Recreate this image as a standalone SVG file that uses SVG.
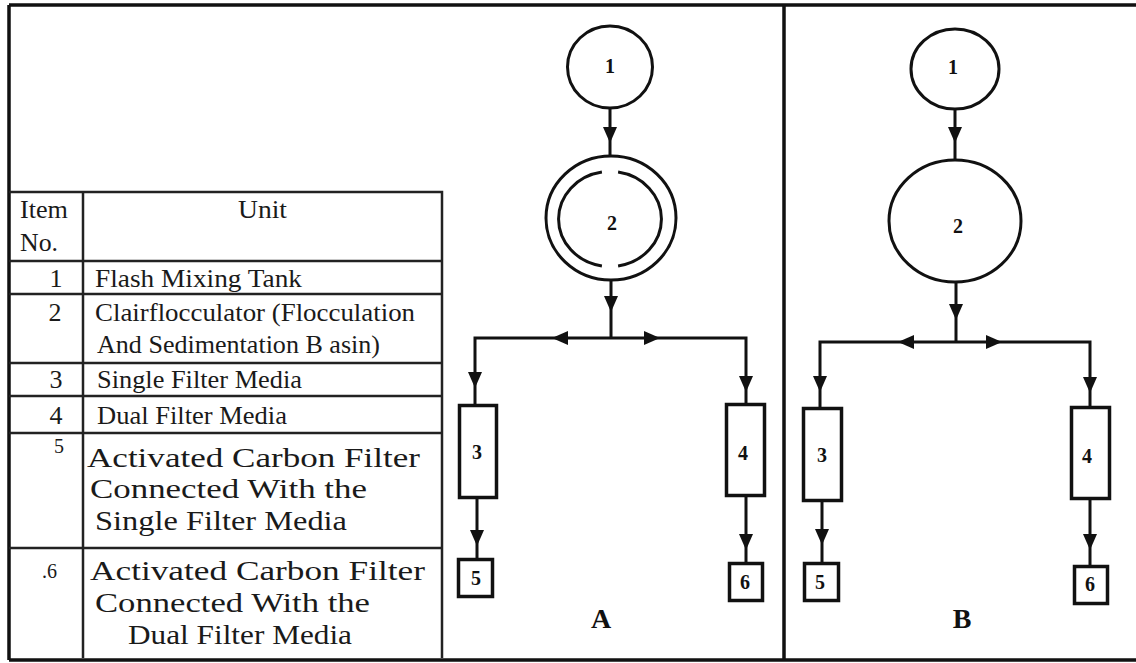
<svg xmlns="http://www.w3.org/2000/svg" width="1136" height="663" viewBox="0 0 1136 663">
<style>
.frame{stroke:#111;stroke-width:3.5;fill:none}
.tbl{stroke:#222;stroke-width:2.5;fill:none}
.tt{font-family:"Liberation Serif","Times New Roman",serif;font-size:26px;fill:#1a1a1a}
.tb{font-family:"Liberation Serif","Times New Roman",serif;font-size:28px;fill:#1a1a1a}
.tn{font-family:"Liberation Serif","Times New Roman",serif;font-size:20px;fill:#1a1a1a}
.shape{stroke:#111;stroke-width:3;fill:#fff}
.box{stroke:#111;stroke-width:3.5;fill:#fff}
.lbl{font-family:"Liberation Serif","Times New Roman",serif;font-weight:bold;font-size:20px;fill:#111;text-anchor:middle}
.big{font-family:"Liberation Serif","Times New Roman",serif;font-weight:bold;font-size:28px;fill:#111;text-anchor:middle}
.con{stroke:#111;stroke-width:3;fill:none;marker-end:url(#ah)}
.con2{stroke:#111;stroke-width:3;fill:none}
</style>
<defs>
<marker id="ah" viewBox="0 0 16 14" refX="16" refY="7" markerWidth="16" markerHeight="14" markerUnits="userSpaceOnUse" orient="auto">
<path d="M0,0 L16,7 L0,14 Z" fill="#111"/>
</marker>
</defs>
<rect width="1136" height="663" fill="#fff"/>
<g id="frame">
<path class="frame" d="M9,5 H1136 M9,5 V660 M9,660 H1136 M784,5 V660"/>
</g>
<g id="table">
<path class="tbl" d="M9,192 H442 V658 M9,261 H442 M9,294 H442 M9,363 H442 M9,396 H442 M9,433 H442 M9,548 H442 M83,192 V658"/>
<text class="tt" x="20" y="218" textLength="48" lengthAdjust="spacingAndGlyphs">Item</text>
<text class="tt" x="20" y="251" textLength="38" lengthAdjust="spacingAndGlyphs">No.</text>
<text class="tt" x="238" y="218" textLength="49" lengthAdjust="spacingAndGlyphs">Unit</text>
<text class="tt" x="56" y="287" text-anchor="middle">1</text>
<text class="tt" x="95" y="287" textLength="207" lengthAdjust="spacingAndGlyphs">Flash Mixing Tank</text>
<text class="tt" x="55" y="321" text-anchor="middle">2</text>
<text class="tt" x="95" y="321" textLength="320" lengthAdjust="spacingAndGlyphs">Clairflocculator (Flocculation</text>
<text class="tt" x="97" y="353" textLength="283" lengthAdjust="spacingAndGlyphs">And Sedimentation B asin)</text>
<text class="tt" x="56" y="388" text-anchor="middle">3</text>
<text class="tt" x="97" y="388" textLength="205" lengthAdjust="spacingAndGlyphs">Single Filter Media</text>
<text class="tt" x="56" y="424" text-anchor="middle">4</text>
<text class="tt" x="97" y="424" textLength="190" lengthAdjust="spacingAndGlyphs">Dual Filter Media</text>
<text class="tn" x="59" y="453" text-anchor="middle">5</text>
<text class="tb" x="87" y="467" textLength="333" lengthAdjust="spacingAndGlyphs">Activated Carbon Filter</text>
<text class="tb" x="90" y="498" textLength="277" lengthAdjust="spacingAndGlyphs">Connected With the</text>
<text class="tb" x="95" y="530" textLength="252" lengthAdjust="spacingAndGlyphs">Single Filter Media</text>
<text class="tn" x="42" y="578">.6</text>
<text class="tb" x="90" y="580" textLength="335" lengthAdjust="spacingAndGlyphs">Activated Carbon Filter</text>
<text class="tb" x="95" y="612" textLength="275" lengthAdjust="spacingAndGlyphs">Connected With the</text>
<text class="tb" x="128" y="644" textLength="224" lengthAdjust="spacingAndGlyphs">Dual Filter Media</text>
</g>
<g id="connectors">
<path class="con" d="M610,143 V155 M610,109 V143"/>
<path class="con" d="M611,312 V338 M611,281 V312"/>
<path class="con" d="M611,338 H552"/>
<path class="con" d="M611,338 H660"/>
<path class="con" d="M475,388 V404 M552,338 H475 V388"/>
<path class="con" d="M746,392 V403 M660,338 H746 V392"/>
<path class="con" d="M477,546 V558 M477,498 V546"/>
<path class="con" d="M746,550 V562 M746,497 V550"/>
<path class="con" d="M955,143 V159 M955,109 V143"/>
<path class="con" d="M956,320 V342 M956,282 V320"/>
<path class="con" d="M956,342 H898"/>
<path class="con" d="M956,342 H1002"/>
<path class="con" d="M820,392 V407 M898,342 H820 V392"/>
<path class="con" d="M1090,393 V406 M1002,342 H1090 V393"/>
<path class="con" d="M822,545 V562 M822,502 V545"/>
<path class="con" d="M1090,550 V565 M1090,500 V550"/>
</g>
<g id="A-1"><ellipse class="shape" cx="610" cy="67" rx="42.5" ry="41"/><text class="lbl" x="610" y="73">1</text></g>
<g id="A-2"><ellipse class="shape" cx="611" cy="218" rx="65" ry="62"/>
<path class="con2" d="M618.1,172.1 A51.5,47.5 0 0 1 618.1,265.9 M601.9,265.9 A51.5,47.5 0 0 1 601.9,172.1"/>
<text class="lbl" x="612" y="230">2</text></g>
<g id="A-3"><rect class="box" x="459.5" y="405.5" width="37" height="92"/><text class="lbl" x="477" y="459" font-size="22">3</text></g>
<g id="A-4"><rect class="box" x="726.5" y="404.5" width="38" height="91"/><text class="lbl" x="743" y="460" font-size="22">4</text></g>
<g id="A-5"><rect class="box" x="458.5" y="559.5" width="34" height="37"/><text class="lbl" x="476" y="585">5</text></g>
<g id="A-6"><rect class="box" x="729.5" y="563.5" width="33" height="37"/><text class="lbl" x="745" y="589">6</text></g>
<g id="A-label"><text class="big" x="601" y="628">A</text></g>
<g id="B-1"><ellipse class="shape" cx="955" cy="69" rx="44" ry="40"/><text class="lbl" x="953" y="74">1</text></g>
<g id="B-2"><ellipse class="shape" cx="955" cy="221" rx="66" ry="61"/><text class="lbl" x="958" y="233">2</text></g>
<g id="B-3"><rect class="box" x="803.5" y="408.5" width="38" height="92"/><text class="lbl" x="822" y="462" font-size="22">3</text></g>
<g id="B-4"><rect class="box" x="1071.5" y="407.5" width="38" height="91"/><text class="lbl" x="1087" y="463" font-size="22">4</text></g>
<g id="B-5"><rect class="box" x="804.5" y="563.5" width="34" height="37"/><text class="lbl" x="820" y="589">5</text></g>
<g id="B-6"><rect class="box" x="1074.5" y="566.5" width="33" height="37"/><text class="lbl" x="1090" y="591">6</text></g>
<g id="B-label"><text class="big" x="962" y="628">B</text></g>
</svg>
